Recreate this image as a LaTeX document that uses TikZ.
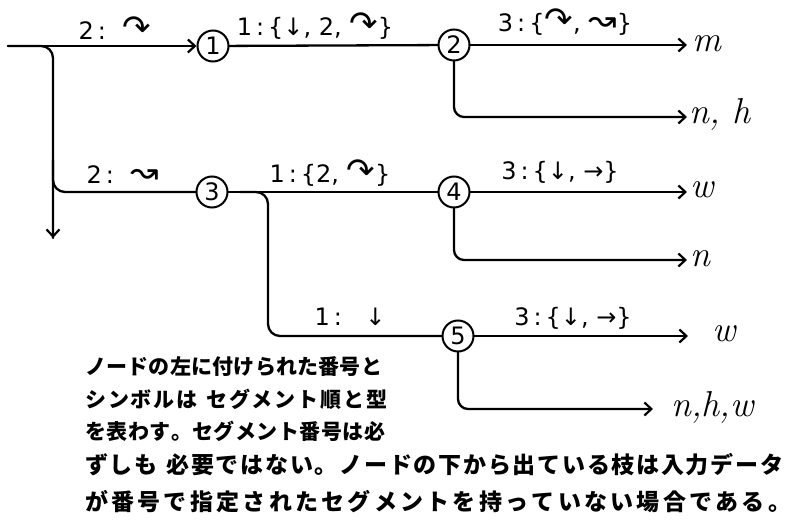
\documentclass[tikz,border=0pt]{standalone}
\usepackage{fontspec}
\newfontfamily\dv{DejaVu Sans}
\newfontfamily\jp{Noto Sans CJK JP}
\usetikzlibrary{arrows.meta}
\def\spreadjp#1{\ifx#1\relax\else#1\hfil\expandafter\spreadjp\fi}
\newcommand\bsym[1]{{\fontsize{34}{34}\selectfont #1}}
\begin{document}
\begin{tikzpicture}[x=1pt,y=-1pt,
  edge/.style={line width=2.3pt,line cap=round},
  arr/.style={edge,-{Straight Barb[length=7pt,width=13pt,line width=2.2pt]}},
  nd/.style={circle,draw,line width=2pt,minimum size=31pt,inner sep=0pt,fill=white,font=\dv\fontsize{24}{24}\selectfont},
  lab/.style={inner sep=0pt,font=\dv\fontsize{24}{24}\selectfont},
  outt/.style={anchor=west,inner sep=0pt,font=\fontsize{36}{36}\selectfont\itshape},
  jt/.style={anchor=west,inner sep=0pt}]
\useasboundingbox (0,0) rectangle (797,526);
% coordinates
\coordinate (r0) at (8,46);
\coordinate (bend) at (53,238);
\coordinate (b2) at (53,160);
\coordinate (c0) at (240,192);
\coordinate (c2) at (268,336);
\coordinate (o2a) at (687,45);
\coordinate (o2b) at (687,117);
\coordinate (o4a) at (687,192);
\coordinate (o4b) at (687,260);
\coordinate (o5a) at (688,336);
\coordinate (o5b) at (653,409);
% edges (drawn first, nodes over them)
\draw[edge,rounded corners=12pt] (r0) -| (bend);
\draw[arr] (53,230) -- (bend);
\draw[arr,rounded corners=12pt] (b2) |- (212,192);
\draw[edge,rounded corners=12pt] (c0) -| (c2) -- (458,336);
% nodes
\node[nd] (n1) at (213,46) {1};
\node[nd] (n2) at (454,45) {2};
\node[nd] (n3) at (212,192) {3};
\node[nd] (n4) at (454,192) {4};
\node[nd] (n5) at (458,336) {5};
\draw[arr] (r0) -- (n1);
\draw[edge] (n1) -- (n2);
\draw[edge] (n3) -- (n4);
\draw[arr] (n2) -- (o2a);
\draw[arr,rounded corners=10pt] (n2) |- (o2b);
\draw[arr] (n4) -- (o4a);
\draw[arr,rounded corners=10pt] (n4) |- (o4b);
\draw[arr] (n5) -- (o5a);
\draw[arr,rounded corners=10pt] (n5) |- (o5b);
% edge labels
\node[lab] (l1) at (115,28) {2\,:\; \bsym{↷}};
\node[lab] (l2) at (315,26) {1\,:\,\{↓, 2, \bsym{↷}\}};
\node[lab] (l3) at (565,22) {3\,:\,\{\bsym{↷}, \bsym{↝}\}};
\node[lab] (l4) at (123,175) {2\,:\; \bsym{↝}};
\node[lab] (l5) at (330,173) {1\,:\,\{2, \bsym{↷}\}};
\node[lab] (l6) at (560,172) {3\,:\,\{↓, →\}};
\node[lab] (l7) at (350,317) {1\,:\;\; ↓};
\node[lab] (l8) at (573,318) {3\,:\,\{↓, →\}};
% outputs
\node[outt] (m1) at (692,44) {m};
\node[outt] (m2) at (689,114) {n, h};
\node[outt] (m3) at (690,190) {w};
\node[outt] (m4) at (690,259) {n};
\node[outt] (m5) at (712,334) {w};
\node[outt] (m6) at (671,407) {n,h,w};
% note text
\node[jt,font=\jp\bfseries\fontsize{21}{21}\selectfont] (t1) at (85,367) {\hbox to 297pt{\spreadjp ノードの左に付けられた番号と\relax\unskip}};
\node[jt,font=\jp\bfseries\fontsize{21}{21}\selectfont] (t2) at (85,399) {\hbox to 302pt{\spreadjp シンボルは~セグメント順と型\relax\unskip}};
\node[jt,font=\jp\bfseries\fontsize{21}{21}\selectfont] (t3) at (85,431) {\hbox to 300pt{\spreadjp を表わす。セグメント番号は必\relax\unskip}};
\node[jt,font=\jp\bfseries\fontsize{23}{23}\selectfont] (t4) at (85,465) {\hbox to 698pt{\spreadjp ずしも~必要ではない。ノードの下から出ている枝は入力データ\relax\unskip}};
\node[jt,font=\jp\bfseries\fontsize{23}{23}\selectfont] (t5) at (85,502) {\hbox to 706pt{\spreadjp が番号で指定されたセグメントを持っていない場合である。\relax\unskip}};
\end{tikzpicture}
\end{document}
